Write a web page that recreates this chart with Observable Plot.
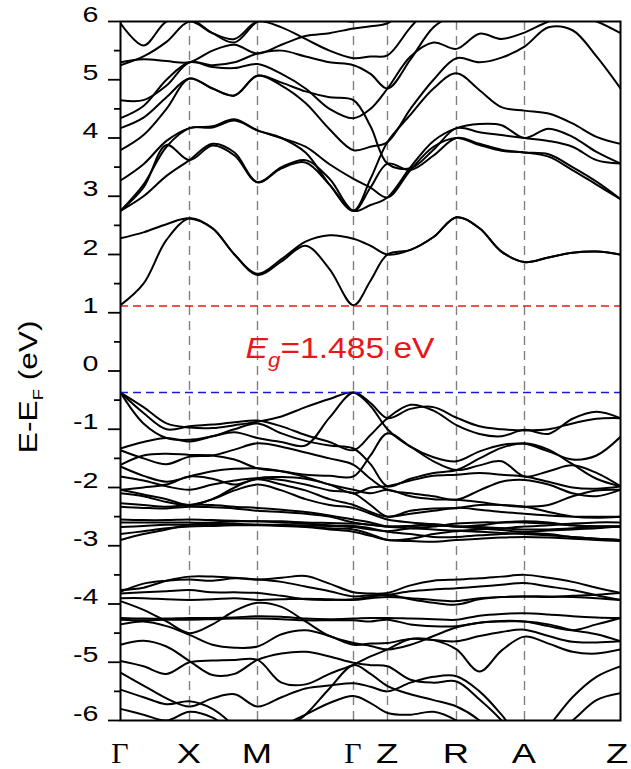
<!DOCTYPE html>
<html><head><meta charset="utf-8">
<script src="https://cdn.jsdelivr.net/npm/d3@7"></script>
<script src="https://cdn.jsdelivr.net/npm/@observablehq/plot@0.6"></script>
<style>html,body{margin:0;padding:0;background:#fff}svg{display:block}</style>
</head><body><div id="chart"></div>
<script>
// k-path sample positions (path length units) and high-symmetry points
const kGrid = [0,23,46,69,92,114,137,161,185,209,233,250,267,290,313,336,359,381,404,428,452,476,500];
const kTicks = [0,69,137,233,267,336,404,500];
const kLabels = ["Γ","X","M","Γ","Z","R","A","Z"];
const yTicks = [-6,-5,-4,-3,-2,-1,0,1,2,3,4,5,6];
const yMinorTicks = [-5.5,-4.5,-3.5,-2.5,-1.5,-0.5,0.5,1.5,2.5,3.5,4.5,5.5];
const cbmEnergy = 1.115;
const vbmEnergy = -0.37;
const gapText = "=1.485 eV";

// conduction bands (eV) at kGrid
const conductionBands = [
 [1.13,1.5,2.25,2.62,2.45,2.0,1.65,1.88,2.15,1.75,1.13,1.55,2.0,2.08,2.3,2.64,2.45,2.05,1.87,1.95,2.03,2.05,2.0],
 [2.28,2.38,2.52,2.62,2.45,2.0,1.67,1.92,2.22,2.33,2.27,2.15,2.0,2.08,2.3,2.64,2.45,2.05,1.87,1.95,2.03,2.05,2.0],
 [2.75,3.15,3.88,3.62,3.87,3.7,3.24,3.5,3.62,3.3,2.75,2.85,2.98,3.5,3.95,4.17,4.24,4.22,4.0,4.16,4.02,3.76,3.56],
 [2.75,3.0,3.35,3.62,3.9,3.75,3.24,3.48,3.58,3.2,2.75,3.15,3.56,3.45,3.7,4.0,3.9,3.8,3.75,3.72,3.5,3.25,2.95],
 [3.27,3.55,3.95,4.17,4.2,4.32,4.13,4.0,3.85,3.55,3.3,3.15,2.98,3.45,3.85,4.0,3.88,3.78,3.75,3.68,3.45,3.2,2.95],
 [3.79,4.05,4.5,5.02,4.85,4.73,5.07,4.95,4.8,4.7,4.65,4.2,3.56,3.48,3.8,4.17,4.1,4.05,4.0,3.95,3.85,3.62,3.56],
 [2.75,3.2,3.85,4.17,4.18,4.3,4.13,4.0,3.75,3.2,2.75,3.3,3.93,4.4,4.85,5.11,4.82,4.53,4.47,4.42,4.25,4.02,3.9],
 [4.17,4.35,4.7,5.02,4.85,4.73,5.07,4.9,4.6,4.15,3.79,3.85,3.93,4.5,5.0,5.37,5.3,5.38,5.57,5.9,5.85,5.4,4.85],
 [4.34,4.55,5.0,5.3,5.22,5.2,5.27,5.1,4.85,4.5,4.34,4.5,4.85,5.4,5.64,5.53,5.79,5.7,5.81,6.0,6.1,6.0,5.8],
 [4.65,4.65,4.9,5.3,5.25,5.3,5.45,5.5,5.4,5.3,5.25,5.1,4.85,5.35,5.9,6.15,6.3,6.2,6.1,6.2,6.3,6.4,6.5],
 [5.25,5.4,5.65,6.0,5.8,5.7,6.0,5.9,5.7,5.5,5.37,5.4,5.42,5.9,6.3,6.5,6.6,6.6,6.6,6.6,6.6,6.6,6.6],
 [5.3,5.35,5.32,5.3,5.5,5.6,5.45,5.6,5.75,5.8,5.88,5.92,5.97,6.3,6.6,6.6,6.6,6.6,6.6,6.6,6.6,6.6,6.6],
 [5.97,5.59,6.0,6.05,5.8,5.64,6.0,6.1,6.2,6.1,6.0,6.2,6.4,6.6,6.6,6.6,6.6,6.6,6.6,6.6,6.6,6.6,6.6]
];

// upper valence bands (eV)
const valenceUpper = [
 [-0.37,-0.62,-0.9,-0.97,-0.98,-0.93,-0.87,-0.78,-0.62,-0.48,-0.37,-0.6,-1.0,-1.3,-1.48,-1.55,-1.38,-1.27,-1.25,-1.38,-1.52,-1.45,-1.13],
 [-0.37,-0.72,-1.0,-0.95,-0.92,-0.88,-0.85,-0.95,-1.1,-1.22,-1.36,-1.1,-0.81,-0.58,-0.68,-0.93,-1.08,-1.12,-1.01,-1.08,-0.82,-0.7,-0.81],
 [-0.37,-0.9,-1.15,-1.18,-1.12,-1.05,-1.15,-1.22,-1.28,-0.8,-0.37,-0.55,-0.81,-0.65,-0.62,-0.8,-0.95,-1.0,-1.02,-1.0,-0.9,-0.82,-0.81],
 [-1.33,-1.22,-1.15,-1.21,-1.12,-1.0,-0.9,-1.07,-1.2,-1.28,-1.33,-1.6,-1.98,-1.85,-1.75,-1.7,-1.5,-1.32,-1.24,-1.35,-1.6,-1.85,-1.98],
 [-1.36,-1.5,-1.6,-1.47,-1.45,-1.35,-1.24,-1.3,-1.4,-1.5,-1.61,-1.85,-2.04,-2.1,-2.15,-2.21,-2.05,-1.9,-1.87,-1.95,-2.1,-2.15,-2.04],
 [-1.61,-1.45,-1.42,-1.44,-1.45,-1.52,-1.67,-1.72,-1.78,-1.8,-1.81,-1.45,-1.07,-1.3,-1.55,-1.7,-1.62,-1.55,-1.81,-1.72,-1.62,-1.75,-1.98],
 [-1.64,-1.8,-1.9,-1.81,-1.72,-1.68,-1.67,-1.72,-1.82,-1.95,-2.04,-2.1,-2.04,-2.15,-2.2,-2.21,-2.25,-2.3,-2.33,-2.3,-2.15,-2.05,-2.04],
 [-1.81,-1.88,-1.98,-2.04,-1.95,-1.88,-1.84,-1.87,-1.95,-2.05,-2.1,-2.3,-2.5,-2.4,-2.36,-2.35,-2.3,-2.3,-2.33,-2.42,-2.5,-2.52,-2.5],
 [-2.04,-2.0,-1.95,-1.81,-1.85,-1.95,-1.86,-1.95,-2.05,-2.2,-2.3,-2.42,-2.5,-2.45,-2.4,-2.35,-2.38,-2.42,-2.45,-2.48,-2.5,-2.5,-2.5],
 [-2.1,-2.15,-2.25,-2.3,-2.2,-2.05,-1.95,-2.05,-2.2,-2.3,-2.35,-2.45,-2.55,-2.6,-2.63,-2.67,-2.65,-2.6,-2.58,-2.6,-2.65,-2.67,-2.67],
 [-2.27,-2.3,-2.33,-2.3,-2.3,-2.33,-2.35,-2.38,-2.42,-2.48,-2.55,-2.6,-2.67,-2.7,-2.72,-2.74,-2.72,-2.7,-2.67,-2.65,-2.62,-2.6,-2.6],
 [-2.33,-2.35,-2.36,-2.33,-2.34,-2.36,-2.4,-2.42,-2.45,-2.5,-2.6,-2.64,-2.67,-2.66,-2.63,-2.67,-2.7,-2.73,-2.76,-2.74,-2.72,-2.7,-2.67],
 [-2.55,-2.56,-2.56,-2.55,-2.56,-2.57,-2.58,-2.58,-2.6,-2.61,-2.62,-2.64,-2.67,-2.66,-2.65,-2.67,-2.68,-2.7,-2.72,-2.72,-2.7,-2.67,-2.67],
 [-2.6,-2.6,-2.6,-2.6,-2.61,-2.62,-2.64,-2.64,-2.65,-2.66,-2.66,-2.7,-2.76,-2.8,-2.85,-2.85,-2.82,-2.8,-2.78,-2.8,-2.85,-2.88,-2.9],
 [-2.68,-2.66,-2.64,-2.64,-2.64,-2.64,-2.64,-2.65,-2.67,-2.7,-2.72,-2.8,-2.9,-2.88,-2.8,-2.75,-2.76,-2.78,-2.8,-2.82,-2.85,-2.88,-2.9],
 [-2.8,-2.75,-2.7,-2.67,-2.66,-2.65,-2.65,-2.66,-2.68,-2.72,-2.76,-2.83,-2.9,-2.92,-2.93,-2.9,-2.88,-2.86,-2.85,-2.86,-2.88,-2.9,-2.92],
 [-2.9,-2.8,-2.72,-2.64,-2.6,-2.58,-2.58,-2.6,-2.62,-2.65,-2.68,-2.72,-2.75,-2.7,-2.67,-2.62,-2.6,-2.6,-2.6,-2.62,-2.65,-2.67,-2.67],
 [-2.04,-2.12,-2.2,-2.3,-2.2,-2.0,-1.84,-1.82,-1.85,-1.95,-2.1,-2.0,-1.98,-1.88,-1.8,-1.78,-1.75,-1.78,-1.81,-1.9,-2.0,-2.02,-1.98]
];

// lower valence bands (eV)
const valenceLower = [
 [-3.76,-3.72,-3.6,-3.53,-3.53,-3.55,-3.58,-3.55,-3.52,-3.65,-3.8,-3.82,-3.81,-3.68,-3.6,-3.58,-3.56,-3.53,-3.5,-3.55,-3.62,-3.72,-3.81],
 [-3.79,-3.65,-3.6,-3.58,-3.6,-3.56,-3.58,-3.62,-3.7,-3.78,-3.87,-3.85,-3.84,-3.78,-3.75,-3.73,-3.7,-3.67,-3.64,-3.7,-3.76,-3.85,-3.93],
 [-3.82,-3.8,-3.78,-3.76,-3.8,-3.8,-3.81,-3.86,-3.92,-3.93,-3.92,-3.88,-3.84,-3.92,-3.98,-4.01,-3.92,-3.88,-3.87,-3.87,-3.88,-3.9,-3.93],
 [-3.9,-3.9,-3.92,-3.93,-3.92,-3.9,-3.93,-3.92,-3.91,-3.92,-3.93,-3.9,-3.88,-3.9,-3.93,-3.95,-3.9,-3.88,-3.87,-3.88,-3.86,-3.84,-3.81],
 [-4.24,-4.25,-4.25,-4.24,-4.24,-4.23,-4.21,-4.22,-4.25,-4.26,-4.25,-4.24,-4.24,-4.25,-4.26,-4.27,-4.2,-4.17,-4.16,-4.18,-4.21,-4.23,-4.24],
 [-4.27,-4.28,-4.27,-4.27,-4.26,-4.25,-4.25,-4.26,-4.28,-4.28,-4.28,-4.3,-4.27,-4.35,-4.38,-4.38,-4.32,-4.29,-4.3,-4.38,-4.45,-4.35,-4.24],
 [-3.95,-4.1,-4.3,-4.5,-4.35,-4.12,-3.98,-4.05,-4.3,-4.55,-4.67,-4.72,-4.78,-4.7,-4.55,-4.4,-4.32,-4.3,-4.3,-4.35,-4.45,-4.52,-4.64],
 [-4.35,-4.3,-4.38,-4.53,-4.7,-4.75,-4.73,-4.52,-4.45,-4.55,-4.7,-4.68,-4.67,-4.6,-4.62,-4.64,-4.55,-4.48,-4.44,-4.55,-4.65,-4.66,-4.64],
 [-4.7,-4.63,-4.73,-4.98,-5.22,-5.2,-4.96,-4.85,-4.82,-4.9,-5.01,-5.05,-5.07,-5.3,-5.35,-5.33,-5.64,-6.0,-6.5,-6.1,-5.6,-5.25,-5.07],
 [-4.98,-5.07,-5.2,-5.0,-4.97,-4.96,-4.96,-5.35,-5.38,-5.2,-5.04,-4.9,-4.78,-4.6,-4.62,-4.78,-5.16,-4.8,-4.56,-4.68,-4.82,-4.85,-4.78],
 [-5.47,-5.6,-5.72,-5.67,-5.8,-6.1,-6.5,-6.2,-5.9,-5.45,-5.05,-5.2,-5.41,-5.55,-5.65,-5.76,-6.0,-6.4,-6.6,-6.3,-6.0,-5.65,-5.53],
 [-5.18,-5.4,-5.62,-5.76,-5.62,-5.55,-5.76,-5.6,-5.45,-5.4,-5.36,-5.42,-5.5,-5.35,-5.25,-5.24,-5.5,-5.9,-6.4,-6.6,-6.6,-6.6,-6.6],
 [-5.8,-5.9,-6.0,-5.85,-5.95,-6.2,-6.3,-6.1,-5.9,-5.7,-5.58,-5.7,-5.87,-5.9,-5.85,-6.0,-6.3,-6.6,-6.6,-6.6,-6.6,-6.6,-6.6]
];

const allBands = [...conductionBands, ...valenceUpper, ...valenceLower];
const rows = [];
allBands.forEach((b, i) => b.forEach((e, j) => rows.push({band: i, k: kGrid[j], e})));

const sans = "'Liberation Sans', Arial, sans-serif";
const serif = "'Liberation Serif', 'Times New Roman', serif";

const svg = Plot.plot({
  width: 631, height: 769,
  marginLeft: 120, marginRight: 11, marginTop: 21, marginBottom: 49,
  x: {domain: [0, 500], axis: null},
  y: {domain: [-6, 6]},
  style: {fontFamily: sans, background: "white", color: "black"},
  marks: [
    Plot.ruleX(kTicks.slice(1, -1), {stroke: "#808080", strokeWidth: 1.4, strokeDasharray: "9,6"}),
    Plot.line(rows, {x: "k", y: "e", z: "band", stroke: "black", strokeWidth: 2, curve: "catmull-rom", clip: true}),
    Plot.ruleY([cbmEnergy], {stroke: "#e81818", strokeWidth: 1.6, strokeDasharray: "8,5"}),
    Plot.ruleY([vbmEnergy], {stroke: "#1a1ad0", strokeWidth: 1.6, strokeDasharray: "8,5"}),
    Plot.frame({stroke: "black", strokeWidth: 2}),
    Plot.axisY({ticks: yTicks, tickSize: 12, tickPadding: 10, fontSize: 22, strokeWidth: 1.8, tickFormat: d => String(d), label: null}),
    Plot.axisY({ticks: yMinorTicks, tickSize: 6, strokeWidth: 1.8, tickFormat: () => "", label: null})
  ]
});

function stretch(sel, sx) {
  sel.each(function() {
    const t = d3.select(this);
    if (!t.text()) return;
    let tr = t.attr("transform") || "";
    const xa = t.attr("x"), ya = t.attr("y");
    if (xa != null || ya != null) {
      tr += ` translate(${+xa || 0},${+ya || 0})`;
      t.attr("x", null).attr("y", null);
    }
    t.attr("transform", tr + ` scale(${sx},1)`);
  });
}
const root = d3.select(svg);
stretch(root.selectAll("g[aria-label='y-axis tick label'] text"), 1.3);

const xs = svg.scale("x"), ys = svg.scale("y");
const W = 631;

// k-point labels below the frame
const baseY = ys.apply(-6) + 43;
kTicks.forEach((k, i) => {
  const isGamma = kLabels[i] === "Γ";
  let px = xs.apply(k);
  if (px > W - 14) px = W - 14;
  root.append("text")
    .attr("transform", `translate(${px},${baseY})` + (isGamma ? "" : " scale(1.3,1)"))
    .attr("text-anchor", "middle")
    .attr("font-family", isGamma ? serif : sans)
    .attr("font-size", isGamma ? 30 : 28)
    .attr("fill", "black")
    .text(kLabels[i]);
});

// gap label
const gl = root.append("text")
  .attr("transform", `translate(${xs.apply(220)},${ys.apply(0.22)}) scale(1.12,1)`)
  .attr("text-anchor", "middle")
  .attr("fill", "#e81818")
  .attr("font-family", sans)
  .attr("font-size", 30);
gl.append("tspan").attr("font-style", "italic").text("E");
gl.append("tspan").attr("font-style", "italic").attr("font-size", 20).attr("dy", 9).text("g");
gl.append("tspan").attr("dy", -9).text(gapText);

// y label
const yl = root.append("text")
  .attr("transform", `translate(37,${ys.apply(-0.28)}) rotate(-90) scale(1.22,1)`)
  .attr("text-anchor", "middle")
  .attr("fill", "black")
  .attr("font-family", sans)
  .attr("font-size", 26);
yl.append("tspan").text("E-E");
yl.append("tspan").attr("font-size", 15).attr("dy", 6).text("F");
yl.append("tspan").attr("dy", -6).text(" (eV)");

document.getElementById("chart").appendChild(svg);
</script>
</body></html>
